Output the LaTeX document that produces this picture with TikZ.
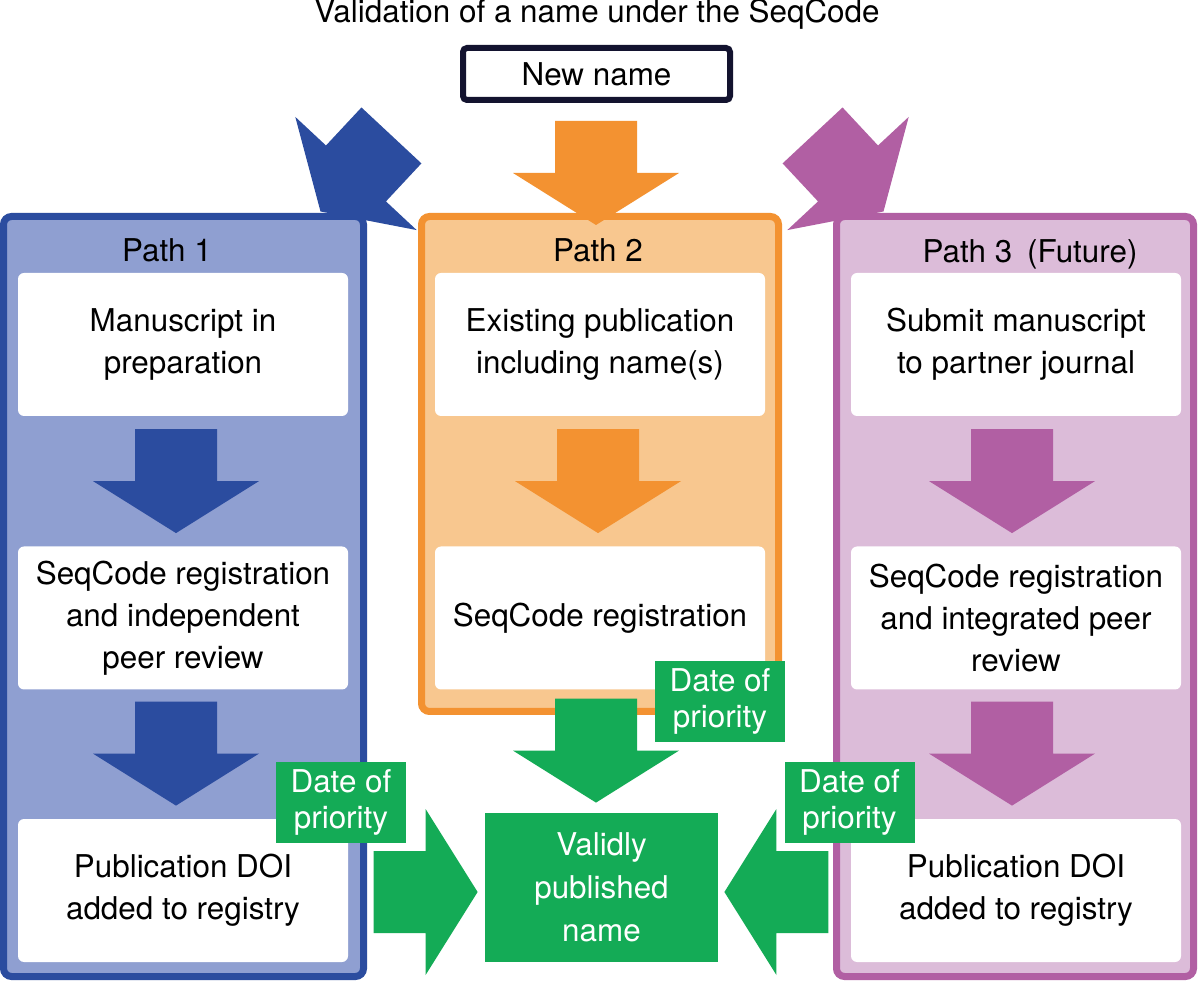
\documentclass[tikz,border=0pt]{standalone}
\usepackage{fontspec}
\setmainfont{TeX Gyre Heros}
\definecolor{seqblue}{HTML}{2B4C9F}
\definecolor{seqbluelight}{HTML}{8F9FD1}
\definecolor{seqorange}{HTML}{F39231}
\definecolor{seqorangelight}{HTML}{F8C78F}
\definecolor{seqpurple}{HTML}{B15FA3}
\definecolor{seqpurplelight}{HTML}{DCBCD9}
\definecolor{seqgreen}{HTML}{14AB56}
\definecolor{seqnavy}{HTML}{13132F}
\tikzset{
  pics/fatarrow/.style={code={
    \fill (-41,-104) -- (41,-104) -- (41,-52) -- (83,-52) -- (0,0) -- (-83,-52) -- (-41,-52) -- cycle;
  }},
  txt/.style={font=\fontsize{15.7}{21}\selectfont, align=center, inner sep=0pt},
  pathbox/.style={draw=#1, fill=#1light, line width=3.5pt, rounded corners=4pt, minimum width=178.5pt},
  stepbox/.style={txt, fill=white, rounded corners=3pt, minimum width=165pt, minimum height=71.5pt},
  datebox/.style={fill=seqgreen, text=white, font=\fontsize{15.7}{18}\selectfont, align=center, inner sep=0pt,
    minimum width=65pt, minimum height=40.5pt}
}
\begin{document}
\begin{tikzpicture}[x=0.5pt, y=-0.5pt]
  \fill[white] (0,0) rectangle (1200,983);
  \useasboundingbox (0,0) rectangle (1200,983);

  \pic[fill=seqblue, rotate=-43] at (320.5,211.5) {fatarrow};
  \pic[fill=seqpurple, rotate=43] at (883.5,211.5) {fatarrow};

  \node[pathbox=seqblue, minimum width=180pt, minimum height=380pt] (path1) at (183.5,596.5) {};
  \node[pathbox=seqorange, minimum height=247.5pt] (path2) at (600,464) {};
  \node[pathbox=seqpurple, minimum height=380pt] (path3) at (1015,596.5) {};

  \node[txt, anchor=base] (p1title) at (167,262) {Path 1};
  \node[txt, anchor=base] (p2title) at (598,262) {Path 2};
  \node[txt, anchor=base] (p3title) at (1030,263) {Path 3\hspace{7.5pt}(Future)};

  \node[stepbox] (p1a) at (183,344.5) {Manuscript in\\preparation};
  \node[stepbox] (p1b) at (183,618) {SeqCode registration\\and independent\\peer review};
  \node[stepbox] (p1c) at (183,890.5) {Publication DOI\\added to registry};
  \node[stepbox] (p2a) at (600,344.5) {Existing publication\\including name(s)};
  \node[stepbox] (p2b) at (600,618) {SeqCode registration};
  \node[stepbox] (p3a) at (1016,344.5) {Submit manuscript\\to partner journal};
  \node[stepbox] (p3b) at (1016,618) {SeqCode registration\\and integrated peer\\review};
  \node[stepbox] (p3c) at (1016,890.5) {Publication DOI\\added to registry};

  \foreach \tgt/\col/\dx in {p1b/seqblue/-3.5, p1c/seqblue/-3.5, p2b/seqorange/-1, p3b/seqpurple/-2, p3c/seqpurple/-2}
    \pic[fill=\col] at ([xshift=\dx pt, yshift=6.5pt]\tgt.north) {fatarrow};

  \node[txt, anchor=base] (title) at (597,23) {Validation of a name under the SeqCode};
  \node[txt, draw=seqnavy, line width=3pt, rounded corners=2pt, fill=white,
    minimum width=133.5pt, minimum height=26pt] (newname) at (596.5,74) {New name};
  \pic[fill=seqorange] at ([xshift=-2pt, yshift=-6pt]path2.north) {fatarrow};

  \node[datebox, minimum width=116.5pt, minimum height=74.5pt, font=\fontsize{15.7}{21.5}\selectfont]
    (valid) at (601.5,887.5) {Validly\\published\\name};
  \pic[fill=seqgreen] at ([xshift=-2.75pt, yshift=5pt]valid.north) {fatarrow};
  \pic[fill=seqgreen, rotate=90] at ([xshift=-3.5pt, yshift=-2.25pt]valid.west) {fatarrow};
  \pic[fill=seqgreen, rotate=-90] at ([xshift=3pt, yshift=-2.25pt]valid.east) {fatarrow};

  \node[datebox] (date1) at (341,802.5) {Date of\\priority};
  \node[datebox] (date2) at (720,701.5) {Date of\\priority};
  \node[datebox] (date3) at (849.5,802.5) {Date of\\priority};
\end{tikzpicture}
\end{document}
